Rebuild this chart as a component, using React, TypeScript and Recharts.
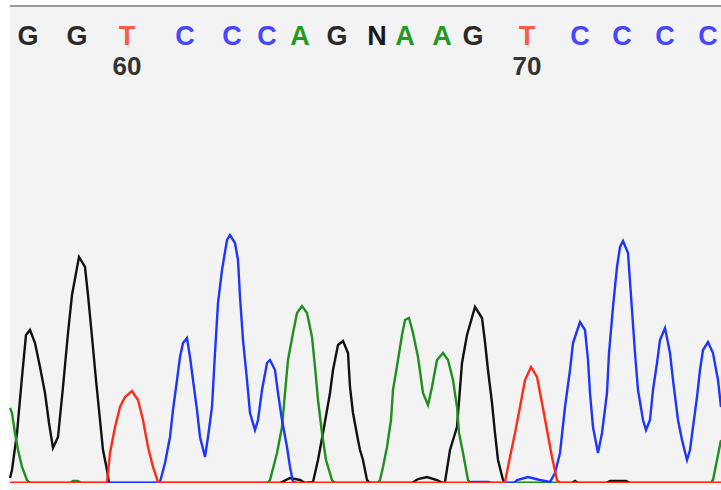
import { LineChart, Line, XAxis, YAxis } from 'recharts';

// base calls along the top, with their peak positions
const baseCalls = ['G', 'G', 'T', 'C', 'C', 'C', 'A', 'G', 'N', 'A', 'A', 'G', 'T', 'C', 'C', 'C', 'C'];
const basePositions = [28, 77, 127, 185, 232, 267, 300, 337, 377, 405, 442, 473, 527, 580, 622, 665, 708];
const firstBaseNumber = 58;

// trace signal per channel: [position, intensity]
const traceG: [number, number][] = [
  [10, 5], [12, 13], [17, 50], [22, 106], [26, 148], [30, 153], [35, 140], [40, 116], [45, 90],
  [49, 60], [53, 35], [58, 46], [63, 96], [68, 150], [72, 188], [79, 226], [85, 216], [88, 188],
  [92, 146], [96, 103], [100, 63], [103, 33], [107, 13], [109, 0], [280, 0], [290, 5], [300, 3],
  [305, 0], [313, 1], [318, 23], [323, 50], [330, 90], [333, 113], [338, 138], [343, 142],
  [348, 130], [350, 96], [353, 70], [358, 43], [360, 33], [363, 23], [367, 3], [370, 0],
  [412, 0], [418, 4], [427, 6], [437, 3], [443, 0], [445, 1], [450, 33], [457, 56], [462, 120],
  [467, 148], [475, 176], [482, 165], [485, 141], [488, 113], [492, 80], [495, 50], [498, 23],
  [503, 3], [506, 0], [572, 0], [575, 2], [578, 0], [606, 0], [610, 2], [626, 2], [630, 0], [721, 0],
];

const traceA: [number, number][] = [
  [10, 75], [12, 70], [15, 50], [18, 33], [22, 16], [27, 3], [30, 0], [70, 0], [73, 2], [78, 2],
  [81, 0], [268, 0], [270, 3], [277, 30], [282, 56], [285, 90], [288, 123], [293, 150], [297, 170],
  [302, 177], [307, 170], [312, 146], [315, 116], [318, 83], [322, 50], [326, 23], [332, 3],
  [335, 0], [378, 0], [380, 3], [383, 16], [387, 36], [391, 63], [393, 93], [398, 123], [402, 148],
  [405, 163], [409, 165], [413, 150], [418, 126], [423, 90], [428, 78], [432, 96], [437, 123],
  [443, 130], [448, 123], [453, 103], [457, 76], [459, 50], [463, 30], [468, 3], [471, 0],
  [711, 0], [713, 3], [717, 23], [721, 43],
];

const traceC: [number, number][] = [
  [10, 0], [158, 0], [160, 1], [165, 20], [170, 46], [173, 73], [177, 103], [180, 126], [183, 140],
  [187, 145], [190, 126], [193, 103], [197, 73], [200, 46], [205, 26], [208, 46], [212, 76],
  [215, 130], [218, 180], [222, 213], [227, 243], [230, 248], [235, 240], [238, 223], [240, 186],
  [243, 143], [247, 103], [250, 70], [255, 53], [258, 63], [262, 93], [267, 120], [270, 123],
  [275, 113], [278, 90], [282, 63], [287, 36], [290, 16], [293, 1], [296, 0], [468, 0], [472, 1],
  [488, 1], [492, 0], [514, 0], [517, 3], [528, 6], [540, 3], [550, 1], [555, 10], [560, 30],
  [565, 76], [570, 113], [573, 140], [580, 161], [585, 153], [588, 123], [590, 90], [593, 56],
  [598, 30], [602, 50], [607, 90], [609, 130], [613, 176], [617, 216], [620, 236], [623, 242],
  [628, 230], [632, 173], [635, 130], [638, 93], [643, 63], [646, 53], [650, 63], [653, 93],
  [657, 120], [660, 143], [665, 155], [670, 130], [673, 103], [678, 63], [682, 43], [687, 23],
  [690, 33], [693, 56], [697, 86], [700, 113], [703, 133], [708, 141], [713, 130], [718, 103],
  [721, 76],
];

const traceT: [number, number][] = [
  [10, 0], [107, 0], [110, 30], [115, 56], [120, 76], [125, 86], [132, 92], [138, 83], [143, 63],
  [148, 36], [153, 16], [158, 1], [161, 0], [503, 0], [505, 1], [510, 26], [515, 50], [520, 76],
  [525, 103], [531, 116], [537, 106], [542, 80], [547, 53], [552, 26], [557, 3], [560, 0], [721, 0],
];

const traceColors: Record<string, string> = {
  G: '#111111',
  A: '#1f8f1f',
  C: '#1e35ff',
  T: '#ff2a1a',
};

const callColors: Record<string, string> = {
  G: '#2a2a2a',
  A: '#229a22',
  C: '#4646ff',
  T: '#ff5a48',
  N: '#1a1a1a',
};

const toPoints = (trace: [number, number][]) => trace.map(([x, v]) => ({ x, v }));

function CallTick(props: any) {
  const { x, payload } = props;
  const index = basePositions.indexOf(payload?.value);
  if (index < 0) return null;
  const base = baseCalls[index];
  const num = firstBaseNumber + index;
  return (
    <g>
      <text
        x={x}
        y={45}
        textAnchor="middle"
        fill={callColors[base] ?? '#111'}
        fontSize={27}
        fontWeight="bold"
        fontFamily="'Liberation Sans', Arial, sans-serif"
      >
        {base}
      </text>
      {num % 10 === 0 && (
        <text
          x={x}
          y={75}
          textAnchor="middle"
          fill="#333"
          fontSize={26}
          fontWeight="bold"
          fontFamily="'Liberation Sans', Arial, sans-serif"
        >
          {num}
        </text>
      )}
    </g>
  );
}

export default function App() {
  const series: [string, [number, number][]][] = [
    ['G', traceG],
    ['A', traceA],
    ['C', traceC],
    ['T', traceT],
  ];

  return (
    <div style={{ position: 'absolute', left: 0, top: 0, width: 721, height: 490, background: '#fff' }}>
      <div
        style={{
          position: 'absolute',
          left: 10,
          top: 5,
          right: 0,
          bottom: 0,
          background: '#f3f3f3',
          borderTop: '2px solid #9c9c9c',
        }}
      />
      <div style={{ position: 'absolute', left: 0, top: 0 }}>
        <LineChart width={721} height={490} margin={{ top: 0, right: 0, bottom: 7, left: 0 }}>
          <XAxis
            dataKey="x"
            orientation="top"
            type="number"
            domain={[0, 721]}
            allowDataOverflow
            ticks={basePositions}
            interval={0}
            tick={CallTick}
            axisLine={false}
            tickLine={false}
            height={90}
          />
          <YAxis type="number" domain={[0, 393]} allowDataOverflow hide />
          {series.map(([name, trace]) => (
            <Line
              key={name}
              data={toPoints(trace)}
              dataKey="v"
              type="linear"
              stroke={traceColors[name]}
              strokeWidth={2.4}
              dot={false}
              activeDot={false}
              isAnimationActive={false}
            />
          ))}
        </LineChart>
      </div>
    </div>
  );
}
